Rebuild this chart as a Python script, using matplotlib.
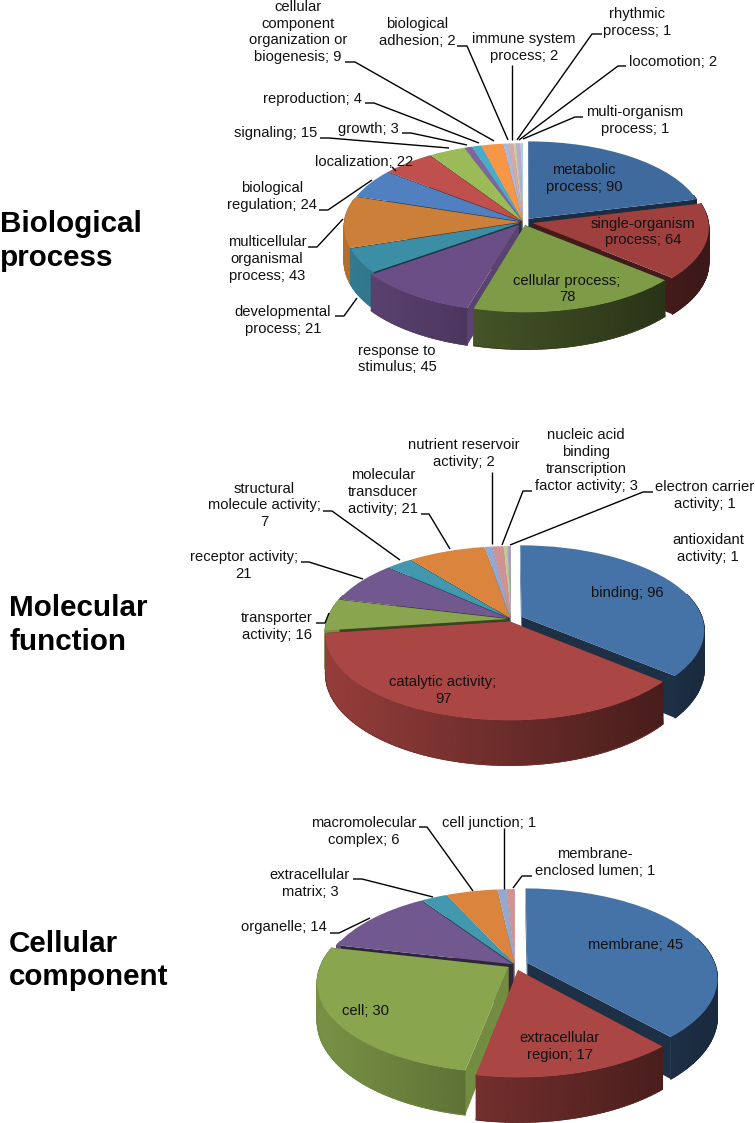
import numpy as np
import matplotlib
matplotlib.use("Agg")
import matplotlib.pyplot as plt
from matplotlib.colors import to_rgb, LinearSegmentedColormap
from matplotlib.transforms import Transform

plt.rcParams['font.family'] = ['Liberation Sans', 'DejaVu Sans']

# ---------- data ----------
bp_values = [90, 64, 78, 45, 21, 43, 24, 22, 15, 3, 4, 9, 2, 2, 1, 2, 1]
bp_labels = ["metabolic\nprocess; 90", "single-organism\nprocess; 64", "cellular process;\n78",
             "response to\nstimulus; 45", "developmental\nprocess; 21",
             "multicellular\norganismal\nprocess; 43", "biological\nregulation; 24",
             "localization; 22", "signaling; 15", "growth; 3", "reproduction; 4",
             "cellular\ncomponent\norganization or\nbiogenesis; 9", "biological\nadhesion; 2",
             "immune system\nprocess; 2", "rhythmic\nprocess; 1", "locomotion; 2",
             "multi-organism\nprocess; 1"]
bp_colors = ["#3F6A9E", "#A0403E", "#7E9C47", "#6A4E85", "#3C8DA6", "#CC7F38", "#5080C0", "#C0504D",
             "#9BBB59", "#8064A2", "#4BACC6", "#F79646", "#AAB9D9", "#D8A8A7", "#C5D4A7", "#B8ABCB",
             "#A7D1DD"]
bp_explode = [.05, .055, .04, .04, .015, .015, .015, .015, .015, .015, .015, .015, .015, .015, .015, .015, .015]

mf_values = [96, 97, 16, 21, 7, 21, 2, 3, 1, 1]
mf_labels = ["binding; 96", "catalytic activity;\n97", "transporter\nactivity; 16",
             "receptor activity;\n21", "structural\nmolecule activity;\n7",
             "molecular\ntransducer\nactivity; 21", "nutrient reservoir\nactivity; 2",
             "nucleic acid\nbinding\ntranscription\nfactor activity; 3",
             "electron carrier\nactivity; 1", "antioxidant\nactivity; 1"]
mf_colors = ["#4572A7", "#AA4643", "#89A54E", "#71588F", "#4198AF", "#DB843D", "#93A9CF", "#D19392",
             "#B9CD96", "#A99BBD"]
mf_explode = [.065, .03, .015, .015, .015, .015, .015, .015, .015, .015]

cc_values = [45, 17, 30, 14, 3, 6, 1, 1]
cc_labels = ["membrane; 45", "extracellular\nregion; 17", "cell; 30", "organelle; 14",
             "extracellular\nmatrix; 3", "macromolecular\ncomplex; 6", "cell junction; 1",
             "membrane-\nenclosed lumen; 1"]
cc_colors = ["#4572A7", "#AA4643", "#89A54E", "#71588F", "#4198AF", "#DB843D", "#93A9CF", "#D19392"]
cc_explode = [.07, .06, .04, .015, .015, .015, .015, .015]

# label centres (pixels)
bp_pos = [(584, 178.5), (643, 232), (567, 289), (397, 359), (283, 320.5), (267, 259), (272, 196.5),
          (364.5, 162), (275.5, 133), (368.5, 129), (312.5, 99), (298, 32), (417, 32.5), (524, 47.5),
          (637, 22.5), (673, 62), (635, 120.5)]
mf_pos = [(627, 593), (443, 690.5), (277, 626.5), (244, 565.5), (264, 505.5), (383, 492), (464, 453.5),
          (586, 460.5), (705, 495.5), (708, 548.5)]
cc_pos = [(636, 945), (560, 1046.5), (366, 1011), (284, 927), (310, 883.5), (364, 831.5), (489, 823),
          (595, 862.5)]

leaders = [
    [(583, 117), (575, 117), (523, 139)], [(626, 66), (618, 66), (519, 140)],
    [(602, 34), (592, 34), (517, 140)], [(512, 65), (512, 140)],
    [(457, 46), (467, 46), (508, 140)], [(345, 62), (355, 62), (494, 141)],
    [(365, 103), (374, 103), (479, 143)], [(402, 133), (411, 133), (467, 145)],
    [(320, 138), (329, 138), (449, 148)], [(392, 167), (396, 171)],
    [(319, 210), (328, 210), (372, 180)], [(308, 247), (317, 247), (343, 219)],
    [(335, 316), (344, 316), (357, 298)],
    [(653, 492), (643, 492), (510, 545)], [(532, 491), (523, 491), (502, 545)],
    [(492, 472), (492, 544)], [(421, 514), (429, 514), (450, 549)],
    [(323, 511), (332, 511), (400, 560)], [(301, 562), (309, 562), (363, 579)],
    [(316, 623), (325, 623), (329, 613)],
    [(330, 933), (339, 933), (370, 918)], [(353, 879), (362, 879), (433, 897)],
    [(419, 827), (427, 827), (473, 891)], [(504, 828), (504, 889)],
    [(532, 876), (522, 876), (513, 888)],
]

titles = [("Biological\nprocess", 0, 241), ("Molecular\nfunction", 9, 625), ("Cellular\ncomponent", 9, 960.5)]


# ---------- perspective helper ----------
class Persp(Transform):
    input_dims = output_dims = 2
    is_separable = False
    has_inverse = False

    def __init__(self, cx, cy, rx, ry, k):
        super().__init__()
        self.p = (cx, cy, rx, ry, k)

    def transform_non_affine(self, values):
        cx, cy, rx, ry, k = self.p
        values = np.asarray(values, float)
        w = 1 + k * values[:, 1]
        return np.column_stack([cx + rx * values[:, 0] / w, cy - ry * values[:, 1] / w])


fig = plt.figure(figsize=(7.55, 11.23), dpi=100)
ax = fig.add_axes([0, 0, 1, 1])
z = [2.0]


def shade(col, s):
    return tuple(c * s for c in to_rgb(col))


def pie3d(values, colors, explode, cx, cy, rx, ry, k, depth, gain=None):
    wedges, _ = ax.pie(values, colors=colors, explode=explode, startangle=90, counterclock=False,
                       radius=1, wedgeprops=dict(linewidth=0))
    tr = Persp(cx, cy, rx, ry, k)
    order = sorted(range(len(wedges)),
                   key=lambda i: -np.sin(np.deg2rad((wedges[i].theta1 + wedges[i].theta2) / 2)))
    for i in order:
        w = wedges[i]
        g = 1.0 if gain is None else gain[i]
        w.set_transform(tr + ax.transData)
        c0 = np.array(w.center)
        # radial walls
        for th in (w.theta1, w.theta2):
            a = np.deg2rad(th)
            pts = tr.transform_non_affine(np.array([c0, c0 + [np.cos(a), np.sin(a)]]))
            ws = 1 + k * np.array([c0[1], c0[1] + np.sin(a)])
            clock = np.deg2rad(90 - th)
            s = 0.85 if abs(np.cos(clock)) > 0.9 and np.sin(clock) < 0.3 else 0.42
            xs = [pts[0, 0], pts[1, 0], pts[1, 0], pts[0, 0]]
            ys = [pts[0, 1], pts[1, 1], pts[1, 1] + depth / ws[1], pts[0, 1] + depth / ws[0]]
            ax.fill(xs, ys, color=shade(colors[i], s * g), lw=0, zorder=z[0])
        z[0] += 0.001
        # outer wall with a smooth left-to-right shading
        n = max(3, int(abs(w.theta2 - w.theta1) / 1.5) + 1)
        th = np.deg2rad(np.linspace(w.theta1, w.theta2, n + 1))
        th = th[np.sin(th) < 0.3]
        if len(th) >= 2:
            uv = np.column_stack([c0[0] + np.cos(th), c0[1] + np.sin(th)])
            p = tr.transform_non_affine(uv)
            ww = 1 + k * uv[:, 1]
            X = np.vstack([p[:, 0], p[:, 0]])
            Y = np.vstack([p[:, 1], p[:, 1] + depth / ww])
            frac = np.clip((p[:, 0] - (cx - rx)) / (2 * rx), 0, 1)
            S = (0.87 - 0.49 * frac) * g
            cmap = LinearSegmentedColormap.from_list("s", ["black", colors[i]])
            ax.pcolormesh(X, Y, np.vstack([S, S]), cmap=cmap, vmin=0, vmax=1, shading='gouraud',
                          zorder=z[0])
            # a thin rim keeps the lower edge of the wall smooth
            ax.plot(X[1], Y[1], color=shade(colors[i], float(S.mean())), lw=0.6, zorder=z[0])
        z[0] += 0.001
        w.set_zorder(z[0])
        z[0] += 0.001


bp_gain = [1] * len(bp_values)
bp_gain[2] = 0.78
pie3d(bp_values, bp_colors, bp_explode, 523, 222, 176, 82, 0.055, 35, bp_gain)
pie3d(mf_values, mf_colors, mf_explode, 511, 619, 181, 83, 0.153, 38)
pie3d(cc_values, cc_colors, cc_explode, 515, 965, 188, 87.5, 0.167, 37)

ax.set_aspect('auto')
ax.set_xlim(0, 755)
ax.set_ylim(1123, 0)
ax.axis('off')

for pts in leaders:
    xs, ys = zip(*pts)
    ax.plot(xs, ys, color='black', lw=1.0, zorder=50, solid_capstyle='butt')

for labs, pos in ((bp_labels, bp_pos), (mf_labels, mf_pos), (cc_labels, cc_pos)):
    for t, (x, y) in zip(labs, pos):
        ax.text(x, y, t, ha='center', va='center', fontsize=10.6, color='#111111', linespacing=1.25,
                zorder=60)

for t, x, y in titles:
    ax.text(x, y, t, ha='left', va='center', fontsize=21.3, fontweight='bold', color='black',
            linespacing=1.25, zorder=60)

fig.savefig("out.png", dpi=100, facecolor='white')
